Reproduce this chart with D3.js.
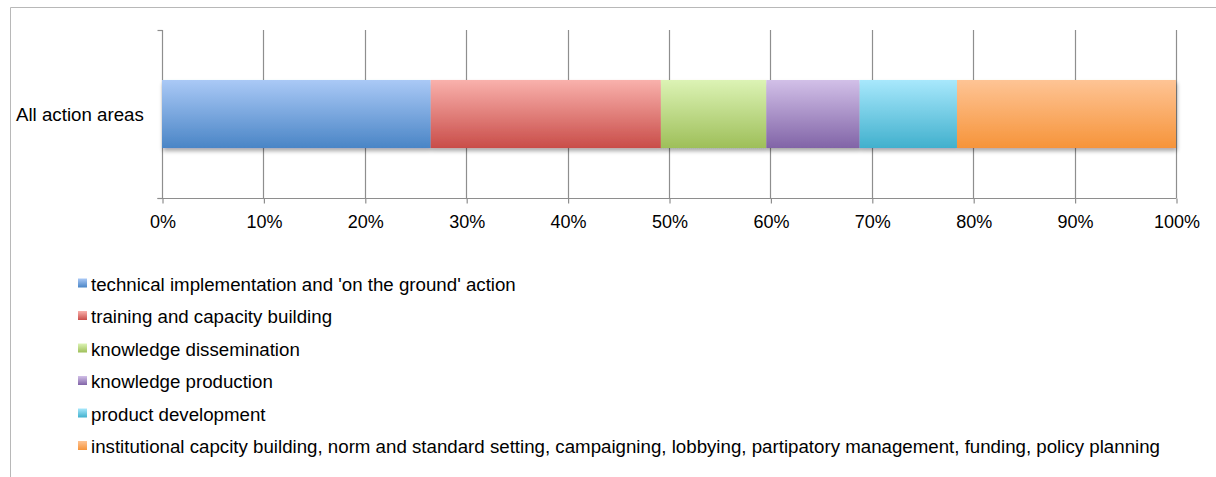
<!DOCTYPE html>
<html>
<head>
<meta charset="utf-8">
<script src="https://cdn.jsdelivr.net/npm/d3@7"></script>
<style>
  html, body { margin: 0; padding: 0; background: #fff; }
  svg { display: block; font-family: "Liberation Sans", Arial, sans-serif; }
</style>
</head>
<body>
<svg id="chart" width="1216" height="477"></svg>
<script>
// Share of activities per action type (percent of all action areas)
const categories = ["All action areas"];
const seriesNames = [
  "technical implementation and 'on the ground' action",
  "training and capacity building",
  "knowledge dissemination",
  "knowledge production",
  "product development",
  "institutional capcity building, norm and standard setting, campaigning, lobbying, partipatory management, funding, policy planning"
];
const seriesValues = [26.5, 22.7, 10.4, 9.2, 9.6, 21.6];
const tickValues = [0, 10, 20, 30, 40, 50, 60, 70, 80, 90, 100];
const seriesColors = [
  ["#aac9f6", "#4a85c6"],
  ["#f9b1ac", "#c94d49"],
  ["#dcf3b5", "#9ebf59"],
  ["#d2c0e8", "#8164a7"],
  ["#a8e8fc", "#41b0cd"],
  ["#fec495", "#f6943a"]
];

const svg = d3.select("#chart");
const W = 1216, H = 477;

// frame
svg.append("path")
  .attr("d", `M10.5,${H} V7.5 H${W}`)
  .attr("fill", "none").attr("stroke", "#b8b8b8").attr("stroke-width", 1);

const x = d3.scaleLinear().domain([0, 100]).range([162, 1176]);
const y = d3.scaleBand().domain(categories).range([30, 198]).paddingInner(0).paddingOuter(0.735);

const defs = svg.append("defs");
seriesColors.forEach((c, i) => {
  const g = defs.append("linearGradient").attr("id", "grad" + i)
    .attr("x1", 0).attr("y1", 0).attr("x2", 0).attr("y2", 1);
  g.append("stop").attr("offset", "0%").attr("stop-color", c[0]);
  g.append("stop").attr("offset", "100%").attr("stop-color", c[1]);
});
const shadow = defs.append("filter").attr("id", "shadow")
  .attr("x", "-5%").attr("y", "-20%").attr("width", "110%").attr("height", "160%");
shadow.append("feGaussianBlur").attr("in", "SourceAlpha").attr("stdDeviation", 2.2).attr("result", "b");
shadow.append("feOffset").attr("in", "b").attr("dx", 1).attr("dy", 3).attr("result", "o");
shadow.append("feComponentTransfer").attr("in", "o").attr("result", "s")
  .append("feFuncA").attr("type", "linear").attr("slope", 0.35);
const merge = shadow.append("feMerge");
merge.append("feMergeNode").attr("in", "s");
merge.append("feMergeNode").attr("in", "SourceGraphic");

// vertical gridlines
svg.append("g").selectAll("line").data(tickValues.slice(1)).join("line")
  .attr("x1", d => Math.round(x(d)) + 0.5).attr("x2", d => Math.round(x(d)) + 0.5)
  .attr("y1", 30).attr("y2", 198)
  .attr("stroke", "#8e8e8e").attr("stroke-width", 1.2);

// x axis
const xAxis = svg.append("g").attr("transform", "translate(0.5,198.5)")
  .call(d3.axisBottom(x).tickValues(tickValues).tickFormat(d => d + "%").tickSize(5).tickSizeOuter(0));
xAxis.select(".domain").attr("stroke", "#8e8e8e").attr("stroke-width", 1.2)
  .attr("d", `M${x(0) - 5},0H${x(100)}`);
xAxis.selectAll(".tick line").attr("stroke", "#8e8e8e").attr("stroke-width", 1.2);
xAxis.selectAll(".tick text").attr("y", 16.5).attr("font-size", "18px")
  .attr("fill", "#000").attr("font-family", "Liberation Sans, Arial, sans-serif");

// y axis
const yAxis = svg.append("g").attr("transform", `translate(${Math.round(x(0)) + 0.5},0)`);
yAxis.append("line").attr("x1", 0).attr("x2", 0).attr("y1", 30).attr("y2", 198)
  .attr("stroke", "#8e8e8e").attr("stroke-width", 1.2);
yAxis.selectAll("line.t").data([30, 198]).join("line").attr("class", "t")
  .attr("x1", -5).attr("x2", 0).attr("y1", d => d + 0.5).attr("y2", d => d + 0.5)
  .attr("stroke", "#8e8e8e").attr("stroke-width", 1.2);
svg.selectAll("text.cat").data(categories).join("text").attr("class", "cat")
  .attr("x", 16).attr("y", d => y(d) + y.bandwidth() / 2)
  .attr("dy", "0.35em").attr("font-size", "18.7px").attr("fill", "#000")
  .text(d => d);

// stacked bar
let acc = 0;
const stacked = seriesValues.map((v, i) => {
  const s = { i, start: acc, end: acc + v };
  acc += v;
  return s;
});
svg.append("g").attr("filter", "url(#shadow)")
  .selectAll("rect").data(stacked).join("rect")
  .attr("x", d => x(d.start)).attr("width", d => x(d.end) - x(d.start))
  .attr("y", y(categories[0])).attr("height", y.bandwidth())
  .attr("fill", d => `url(#grad${d.i})`);

// legend
const legend = svg.append("g").selectAll("g").data(seriesNames).join("g")
  .attr("transform", (d, i) => `translate(78,${284 + i * 32.5})`);
legend.append("rect").attr("x", 0).attr("y", -5.5).attr("width", 9).attr("height", 9)
  .attr("fill", (d, i) => `url(#grad${i})`);
legend.append("text").attr("x", 13).attr("y", 0).attr("dy", "0.35em")
  .attr("font-size", "18.7px").attr("fill", "#000").text(d => d);
</script>
</body>
</html>
